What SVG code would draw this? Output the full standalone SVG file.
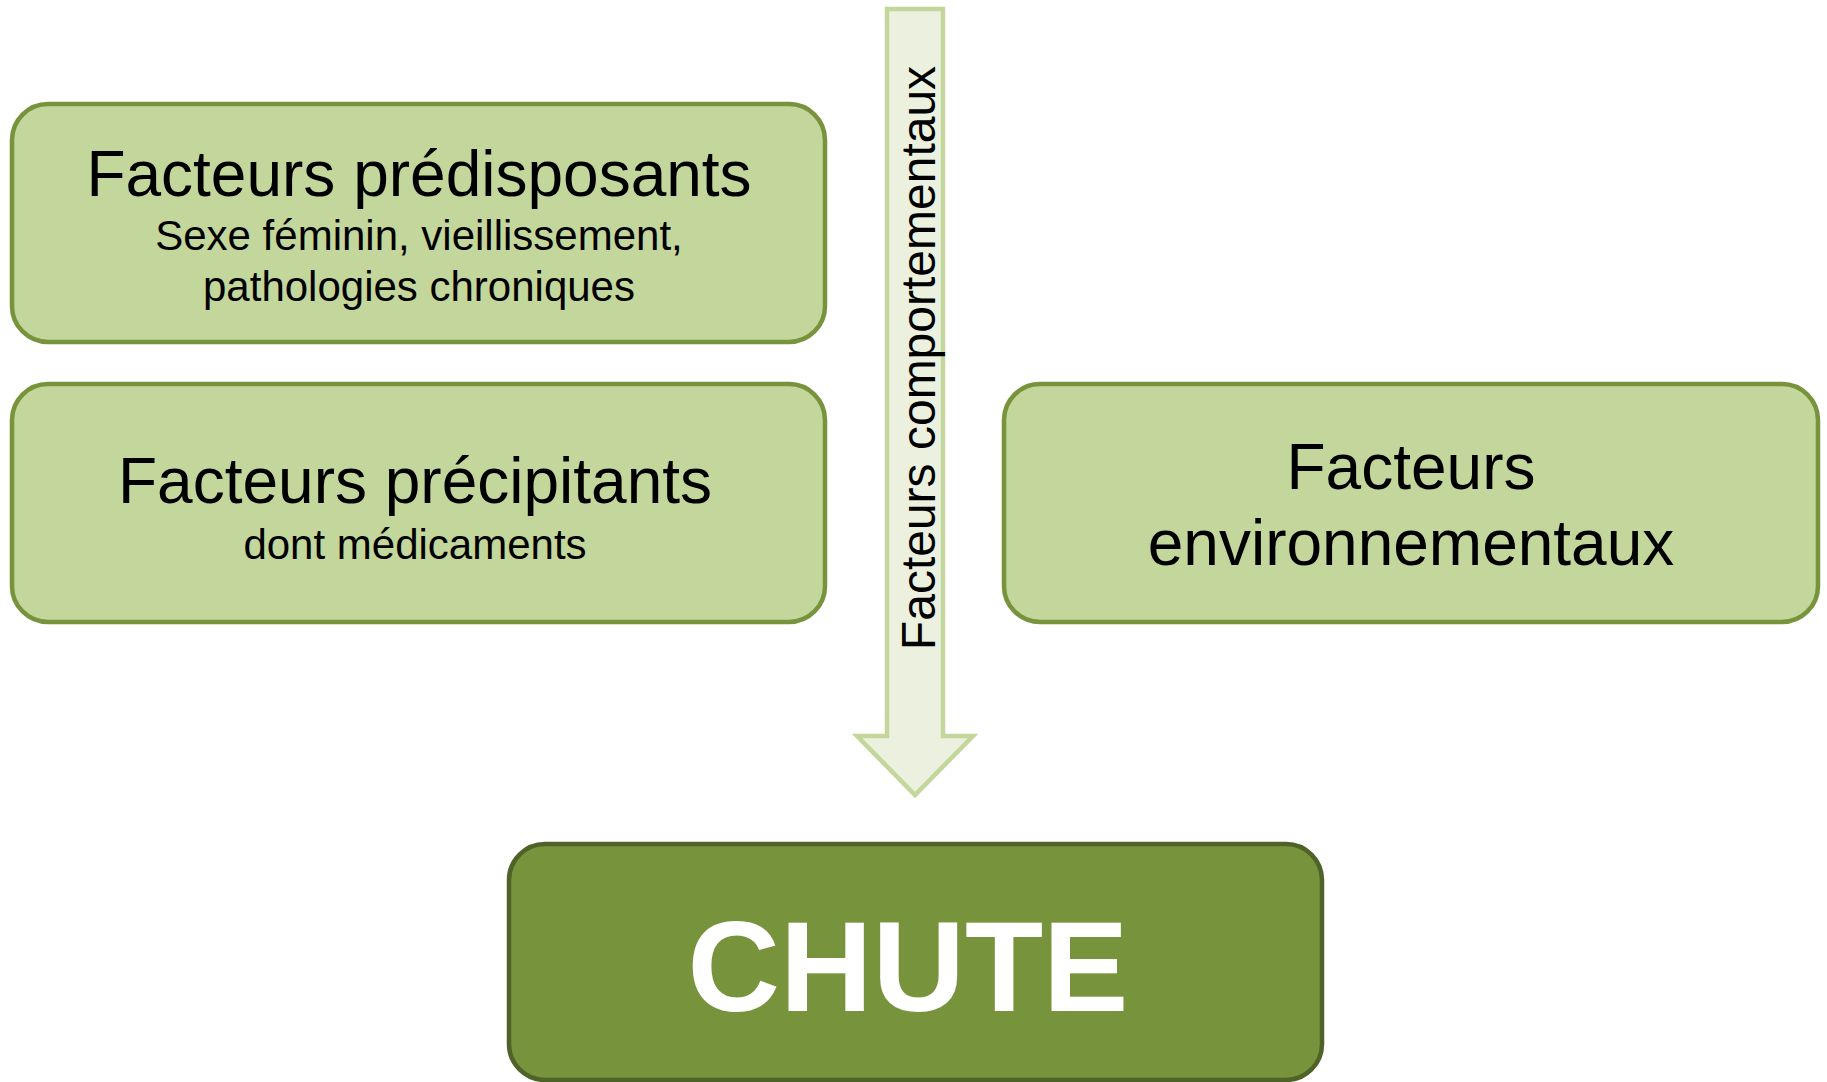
<svg xmlns="http://www.w3.org/2000/svg" width="1827" height="1082" viewBox="0 0 1827 1082">
<style>
.box{fill:#C3D69B;stroke:#77933C;stroke-width:4.5}
.main{fill:#77933C;stroke:#4F6228;stroke-width:4.5}
.t{font-family:"Liberation Sans",Arial,sans-serif;fill:#000;text-anchor:middle}
.big{font-size:64px}
.small{font-size:42px}
.chute{font-family:"Liberation Sans",Arial,sans-serif;font-weight:bold;font-size:128px;fill:#fff;text-anchor:middle}
</style>
<rect width="1827" height="1082" fill="#fff"/>
<g id="connectors">
<g id="arrow-comportementaux">
<path d="M887,9 L943,9 L943,736 L973,736 L915,795 L857,736 L887,736 Z" fill="#EBF1DE" stroke="#C3D69B" stroke-width="4.5" stroke-linejoin="miter"/>
<text class="t" transform="translate(935,358) rotate(-90)" style="font-size:48px">Facteurs comportementaux</text>
</g>
</g>
<g id="node-predisposants">
<rect class="box" x="12" y="104" width="813" height="238" rx="36"/>
<text class="t big" x="419" y="196">Facteurs prédisposants</text>
<text class="t small" x="419" y="250">Sexe féminin, vieillissement,</text>
<text class="t small" x="419" y="301">pathologies chroniques</text>
</g>
<g id="node-precipitants">
<rect class="box" x="12" y="384" width="813" height="238" rx="36"/>
<text class="t big" x="415" y="503">Facteurs précipitants</text>
<text class="t small" x="415" y="559">dont médicaments</text>
</g>
<g id="node-environnementaux">
<rect class="box" x="1004" y="384" width="814" height="238" rx="36"/>
<text class="t big" x="1411" y="489">Facteurs</text>
<text class="t big" x="1411" y="565">environnementaux</text>
</g>
<g id="node-chute">
<rect class="main" x="509" y="844" width="813" height="236" rx="36"/>
<text class="chute" x="908" y="1011">CHUTE</text>
</g>
</svg>
